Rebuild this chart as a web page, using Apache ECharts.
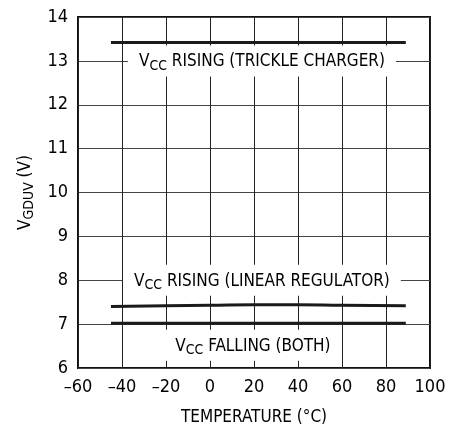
<!DOCTYPE html>
<html>
<head>
<meta charset="utf-8">
<script src="https://cdn.jsdelivr.net/npm/echarts@6/dist/echarts.min.js"></script>
<style>
html,body{margin:0;padding:0;background:#fff;}
#chart{width:458px;height:427px;}
</style>
</head>
<body>
<div id="chart"></div>
<script>
// ---- data ----
var tempTrickle = [-45, -20, 0, 20, 40, 60, 89];
var vTrickle    = [13.42, 13.42, 13.42, 13.42, 13.42, 13.42, 13.42];
var tempLinear  = [-45, -20, 0, 20, 40, 60, 89];
var vLinear     = [7.40, 7.42, 7.43, 7.44, 7.44, 7.43, 7.42];
var tempFalling = [-45, -20, 0, 20, 40, 60, 89];
var vFalling    = [7.02, 7.02, 7.02, 7.02, 7.02, 7.02, 7.02];

var xTickLabels = ['–60', '–40', '–20', '0', '20', '40', '60', '80', '100'];
var yTickLabels = ['6', '7', '8', '9', '10', '11', '12', '13', '14'];

var labelX    = [23.6, 23.6, 19.5];
var labelY    = [13, 8, 6.52];
var labelMain = ['V', 'V', 'V'];
var labelSub  = ['CC', 'CC', 'CC'];
var labelRest = [' RISING (TRICKLE CHARGER)', ' RISING (LINEAR REGULATOR)', ' FALLING (BOTH)'];

var xTitle = 'TEMPERATURE (°C)';
var yTitleMain = 'V', yTitleSub = 'GDUV', yTitleRest = ' (V)';

// ---- chart ----
var FONT = '"Liberation Sans Narrow", "DejaVu Sans Condensed", "Roboto", sans-serif';
function pairs(xs, ys) { return xs.map(function (x, i) { return [x, ys[i]]; }); }

var chart = echarts.init(document.getElementById('chart'), null, { renderer: 'canvas' });
var lineStyle = { color: '#1a1a1a', width: 3 };

var labelData = labelX.map(function (x, i) {
  return { value: [x, labelY[i]], main: labelMain[i], sub: labelSub[i], rest: labelRest[i] };
});

var txt = { fontFamily: FONT, color: '#000', textBorderWidth: 0, textBorderColor: 'transparent', textShadowBlur: 0 };
function ts(size, extra) { return Object.assign({}, txt, { fontSize: size }, extra || {}); }

chart.setOption({
  animation: false,
  backgroundColor: '#fff',
  grid: { left: 78, right: 28, top: 17, bottom: 59, outerBoundsMode: 'none', containLabel: false,
          show: true, borderColor: '#111', borderWidth: 2, backgroundColor: 'transparent' },
  xAxis: {
    type: 'value', min: -60, max: 100, interval: 20,
    name: xTitle, nameLocation: 'middle', nameGap: 41,
    nameTextStyle: ts(17),
    axisLine: { show: false }, axisTick: { show: false },
    axisLabel: Object.assign(ts(18), { margin: 10,
      formatter: function (v) { return xTickLabels[Math.round((v + 60) / 20)]; } }),
    splitLine: { show: true, lineStyle: { color: '#222', width: 1 } }
  },
  yAxis: {
    type: 'value', min: 6, max: 14, interval: 1,
    name: '{m|' + yTitleMain + '}{s|' + yTitleSub + '}{m|' + yTitleRest + '}',
    nameLocation: 'middle', nameGap: 40, nameRotate: 90,
    nameTextStyle: Object.assign(ts(17), {
      rich: { m: ts(17), s: ts(14, { padding: [8, 0, 0, 0] }) } }),
    axisLine: { show: false }, axisTick: { show: false },
    axisLabel: Object.assign(ts(18), { margin: 10,
      formatter: function (v) { return yTickLabels[Math.round(v - 6)]; } }),
    splitLine: { show: true, lineStyle: { color: '#444', width: 1 } }
  },
  series: [
    { type: 'line', data: pairs(tempTrickle, vTrickle), showSymbol: false, lineStyle: lineStyle, z: 3 },
    { type: 'line', data: pairs(tempLinear, vLinear), showSymbol: false, smooth: true, lineStyle: lineStyle, z: 3 },
    { type: 'line', data: pairs(tempFalling, vFalling), showSymbol: false, lineStyle: lineStyle, z: 3 },
    {
      type: 'scatter', data: labelData, symbolSize: 0, z: 4, silent: true,
      itemStyle: { opacity: 1 },
      label: Object.assign(ts(17), {
        show: true, position: 'inside',
        backgroundColor: '#fff', padding: [5, 11, 3, 11],
        formatter: function (p) { return '{m|' + p.data.main + '}{s|' + p.data.sub + '}{m|' + p.data.rest + '}'; },
        rich: { m: ts(17), s: ts(14, { padding: [9, 0, 0, 0] }) }
      })
    }
  ]
});
</script>
</body>
</html>
